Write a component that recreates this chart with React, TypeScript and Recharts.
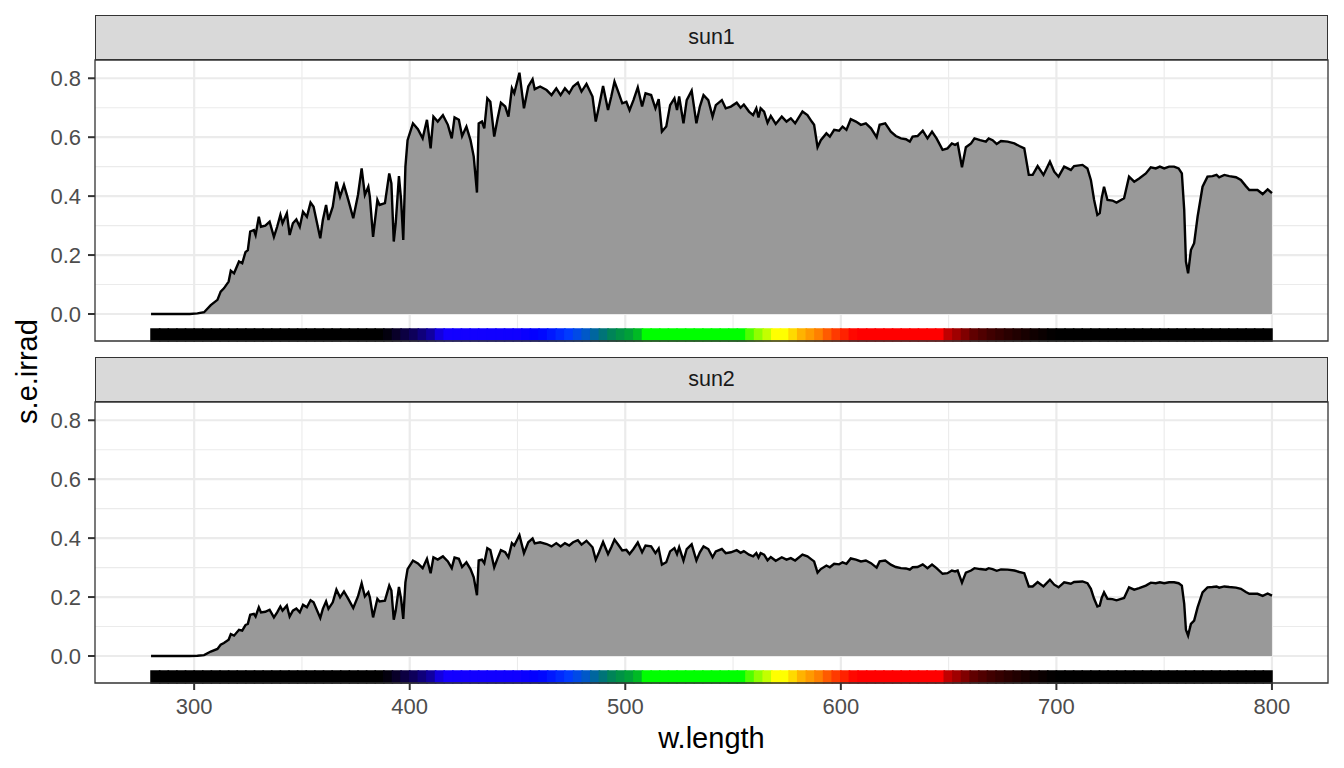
import React from 'react';
import { ComposedChart, Area, XAxis, YAxis, CartesianGrid, ReferenceArea } from 'recharts';

const FONT = '"Liberation Sans", Arial, Helvetica, sans-serif';

// wavelengths (nm)
const WAVELENGTHS = [
  280, 290, 298, 301.5, 304.6, 307.7, 310.8, 312.3, 313.8, 316,
  317, 318.5, 320.8, 322.3, 323.8, 324.9, 326, 327.7, 328.5, 330,
  331, 333, 335, 337, 338.5, 340, 341, 343, 344.3, 345.8,
  347.4, 349, 350.5, 352.3, 354, 355.4, 358.5, 359.7, 361.2, 362.3,
  364.3, 366, 367.7, 369.5, 371.5, 373.8, 376, 377.7, 379.2, 380.8,
  381.5, 383, 385, 386, 388.5, 390.5, 391.5, 392.6, 393.5, 395,
  396, 397, 398, 399, 401.5, 403.8, 406, 408, 409.7, 411,
  413, 415.4, 417.7, 419.5, 420.8, 422.8, 424.3, 426.3, 428.2, 429.7,
  431.2, 432, 433.5, 434.6, 436, 437.4, 439.2, 440.8, 442.3, 444.3,
  445.8, 447.4, 448.5, 450.9, 453, 455, 457, 458, 460.5, 463.5,
  465.8, 468, 470, 472, 474, 475.8, 478, 479.7, 482, 484.8,
  486.3, 487.8, 489.7, 492, 493.5, 495, 497, 498.6, 500.5, 502,
  503.8, 505.8, 507.8, 509.4, 512, 514, 515.5, 517, 519, 520.8,
  522.8, 524, 525, 527, 528.5, 530.8, 533, 534.6, 536.3, 538.5,
  540.5, 542, 544.8, 546.6, 549, 551.7, 553.5, 555, 557.4, 559.3,
  560.8, 561.8, 562.8, 564.4, 566, 567.5, 569.8, 572.6, 574.8, 576.8,
  578.8, 582.2, 584.5, 586.5, 587.6, 589.2, 590.7, 593.3, 594.9, 596.9,
  599.2, 600.8, 602.6, 604.6, 607, 609.3, 611.6, 614, 616.6, 618,
  620.6, 623.2, 625.5, 627.9, 630.2, 632, 633.3, 635.6, 638, 640.2,
  642.3, 644.4, 647.2, 649.5, 651.5, 653, 654.2, 656.2, 658, 660.4,
  662, 664.6, 667.3, 668.6, 670.4, 672.3, 674.3, 677.4, 680.5, 682.8,
  685.1, 687.2, 689, 691.3, 694, 697, 699, 701, 703.6, 706.7,
  708.2, 712.1, 714.4, 716, 717.5, 719, 720.1, 721, 722.1, 723.7,
  726, 727.9, 731.4, 733.7, 736.1, 738.4, 741.5, 743.8, 746.1, 748,
  750, 752.3, 754.6, 756.7, 758.2, 759.3, 760.1, 761.1, 762.4, 763.9,
  765.5, 767.8, 770.1, 772.4, 774.3, 775.5, 777.9, 780.2, 783.3, 785.6,
  787.9, 789.5, 793.3, 795.7, 798, 800,
];

const SUN1 = [
  0, 0, 0, 0.002, 0.006, 0.03, 0.048, 0.076, 0.087, 0.11,
  0.147, 0.138, 0.178, 0.172, 0.21, 0.217, 0.28, 0.285, 0.268, 0.33,
  0.296, 0.3, 0.313, 0.262, 0.296, 0.336, 0.308, 0.342, 0.268, 0.308,
  0.321, 0.296, 0.347, 0.33, 0.378, 0.364, 0.257, 0.319, 0.37, 0.319,
  0.364, 0.449, 0.398, 0.438, 0.387, 0.325, 0.404, 0.494, 0.404, 0.432,
  0.398, 0.262, 0.387, 0.37, 0.376, 0.477, 0.443, 0.246, 0.308, 0.468,
  0.387, 0.251, 0.5, 0.59, 0.647, 0.627, 0.596, 0.659, 0.562, 0.67,
  0.653, 0.675, 0.642, 0.596, 0.667, 0.659, 0.604, 0.636, 0.59, 0.534,
  0.412, 0.647, 0.653, 0.63, 0.732, 0.72, 0.602, 0.664, 0.717, 0.704,
  0.67, 0.766, 0.749, 0.819, 0.698, 0.772, 0.797, 0.763, 0.772, 0.76,
  0.743, 0.766, 0.743, 0.766, 0.749, 0.772, 0.785, 0.755, 0.781, 0.738,
  0.653, 0.704, 0.774, 0.692, 0.738, 0.789, 0.749, 0.715, 0.72, 0.692,
  0.726, 0.769, 0.704, 0.749, 0.743, 0.698, 0.729, 0.619, 0.636, 0.709,
  0.732, 0.692, 0.738, 0.647, 0.726, 0.758, 0.647, 0.704, 0.743, 0.726,
  0.67, 0.709, 0.726, 0.698, 0.704, 0.717, 0.7, 0.711, 0.687, 0.675,
  0.698, 0.667, 0.698, 0.687, 0.649, 0.672, 0.645, 0.67, 0.653, 0.664,
  0.647, 0.687, 0.675, 0.653, 0.642, 0.566, 0.59, 0.613, 0.602, 0.625,
  0.622, 0.636, 0.625, 0.661, 0.653, 0.642, 0.647, 0.63, 0.6, 0.642,
  0.647, 0.619, 0.604, 0.596, 0.593, 0.585, 0.602, 0.604, 0.622, 0.596,
  0.619, 0.596, 0.557, 0.562, 0.579, 0.574, 0.579, 0.498, 0.566, 0.579,
  0.596, 0.59, 0.585, 0.596, 0.59, 0.577, 0.587, 0.585, 0.579, 0.57,
  0.562, 0.472, 0.472, 0.502, 0.472, 0.517, 0.483, 0.466, 0.5, 0.489,
  0.502, 0.506, 0.494, 0.455, 0.387, 0.336, 0.342, 0.393, 0.432, 0.387,
  0.385, 0.378, 0.393, 0.466, 0.449, 0.46, 0.477, 0.498, 0.494, 0.5,
  0.494, 0.5, 0.5, 0.494, 0.477, 0.353, 0.178, 0.138, 0.217, 0.24,
  0.33, 0.432, 0.466, 0.468, 0.472, 0.464, 0.472, 0.468, 0.464, 0.455,
  0.434, 0.421, 0.421, 0.407, 0.423, 0.41,
];

const SUN2 = [
  0, 0, 0, 0.001, 0.003, 0.015, 0.024, 0.038, 0.044, 0.055,
  0.074, 0.069, 0.089, 0.086, 0.105, 0.109, 0.14, 0.143, 0.134, 0.165,
  0.148, 0.15, 0.157, 0.131, 0.148, 0.168, 0.154, 0.171, 0.134, 0.154,
  0.161, 0.148, 0.174, 0.165, 0.189, 0.182, 0.129, 0.16, 0.185, 0.16,
  0.182, 0.225, 0.199, 0.219, 0.194, 0.163, 0.202, 0.247, 0.202, 0.216,
  0.199, 0.131, 0.194, 0.185, 0.188, 0.239, 0.222, 0.123, 0.154, 0.234,
  0.194, 0.126, 0.25, 0.295, 0.324, 0.314, 0.298, 0.33, 0.281, 0.335,
  0.327, 0.338, 0.321, 0.298, 0.334, 0.33, 0.302, 0.318, 0.295, 0.267,
  0.206, 0.324, 0.327, 0.315, 0.366, 0.36, 0.301, 0.332, 0.359, 0.352,
  0.335, 0.383, 0.375, 0.41, 0.349, 0.386, 0.399, 0.382, 0.386, 0.38,
  0.372, 0.383, 0.372, 0.383, 0.375, 0.386, 0.393, 0.378, 0.391, 0.369,
  0.327, 0.352, 0.387, 0.346, 0.369, 0.395, 0.375, 0.358, 0.36, 0.346,
  0.363, 0.385, 0.352, 0.375, 0.372, 0.349, 0.365, 0.31, 0.318, 0.355,
  0.366, 0.346, 0.369, 0.324, 0.363, 0.379, 0.324, 0.352, 0.372, 0.363,
  0.335, 0.355, 0.363, 0.349, 0.352, 0.359, 0.35, 0.356, 0.344, 0.338,
  0.349, 0.334, 0.349, 0.344, 0.325, 0.336, 0.323, 0.335, 0.327, 0.332,
  0.324, 0.344, 0.338, 0.327, 0.321, 0.283, 0.295, 0.307, 0.301, 0.313,
  0.311, 0.318, 0.313, 0.331, 0.327, 0.321, 0.324, 0.315, 0.3, 0.321,
  0.324, 0.31, 0.302, 0.298, 0.297, 0.293, 0.301, 0.302, 0.311, 0.298,
  0.31, 0.298, 0.279, 0.281, 0.29, 0.287, 0.29, 0.249, 0.283, 0.29,
  0.298, 0.295, 0.293, 0.298, 0.295, 0.289, 0.294, 0.293, 0.29, 0.285,
  0.281, 0.236, 0.236, 0.251, 0.236, 0.259, 0.242, 0.233, 0.25, 0.245,
  0.251, 0.253, 0.247, 0.228, 0.194, 0.168, 0.171, 0.197, 0.216, 0.194,
  0.193, 0.189, 0.197, 0.233, 0.225, 0.23, 0.239, 0.249, 0.247, 0.25,
  0.247, 0.25, 0.25, 0.247, 0.239, 0.177, 0.089, 0.069, 0.109, 0.12,
  0.165, 0.216, 0.233, 0.234, 0.236, 0.232, 0.236, 0.234, 0.232, 0.228,
  0.217, 0.211, 0.211, 0.204, 0.212, 0.205,
];

const PANELS = ['sun1', 'sun2'];

const X_TICKS = [300, 400, 500, 600, 700, 800];
const X_MINOR = [350, 450, 550, 650, 750];
const Y_TICKS = [0, 0.2, 0.4, 0.6, 0.8];
const Y_MINOR = [0.1, 0.3, 0.5, 0.7];

// axis limits (ggplot default expansion)
const X_MIN = 254;
const X_MAX = 826;
const Y_MIN = -0.0917;
const Y_MAX = 0.862;
const BAR_TOP = -0.051;

// wavelength -> colour stops for the colour bar
const COLOUR_STOPS: [number, string][] = [
  [280, '#000000'], [388, '#000000'], [395, '#0a0030'], [403, '#0e0060'],
  [410, '#1000a0'], [416, '#1400ff'], [450, '#1000ff'], [460, '#0000ff'],
  [468, '#0020ff'], [475, '#0040ff'], [482, '#0058c8'], [489, '#007080'],
  [495, '#008850'], [502, '#00a038'], [507, '#00c020'], [510, '#00ff00'],
  [554, '#00ff00'], [557, '#40ff00'], [562, '#90ff00'], [567, '#d0ff00'],
  [570, '#ffff00'], [575, '#ffff00'], [580, '#ffc000'], [590, '#ff8000'],
  [597, '#ff4000'], [605, '#ff1000'], [607, '#ff0000'], [647, '#ff0000'],
  [650, '#c00000'], [656, '#900000'], [662, '#600000'], [670, '#400000'],
  [680, '#250000'], [690, '#100000'], [700, '#000000'], [800, '#000000'],
];

function hexRgb(h: string) {
  return [1, 3, 5].map((i) => parseInt(h.slice(i, i + 2), 16));
}

function wlColour(w: number) {
  for (let i = 0; i < COLOUR_STOPS.length - 1; i++) {
    const [w0, c0] = COLOUR_STOPS[i];
    const [w1, c1] = COLOUR_STOPS[i + 1];
    if (w >= w0 && w <= w1) {
      const t = (w - w0) / (w1 - w0);
      const a = hexRgb(c0);
      const b = hexRgb(c1);
      const rgb = a.map((v, k) => Math.round(v + (b[k] - v) * t));
      return `rgb(${rgb.join(',')})`;
    }
  }
  return '#000000';
}

const BAND_STEP = 4;
const bands: { x1: number; x2: number; fill: string }[] = [];
for (let w = 280; w < 800; w += BAND_STEP) {
  bands.push({ x1: w, x2: Math.min(w + BAND_STEP, 800), fill: wlColour(w + BAND_STEP / 2) });
}

const tickStyle = { fill: '#4D4D4D', fontSize: 22, fontFamily: FONT };

function Panel({ values, top, height, marginTop, showX }: any) {
  const data = WAVELENGTHS.map((w, i) => ({ w, v: values[i] }));
  return (
    <div style={{ position: 'absolute', left: 0, top, width: 1344, height }}>
      <ComposedChart
        width={1344}
        height={height}
        data={data}
        margin={{ top: marginTop, right: 16, bottom: showX ? 0 : 9, left: 0 }}
      >
        <CartesianGrid horizontalValues={Y_MINOR} verticalValues={X_MINOR} stroke="#EBEBEB" strokeWidth={1.1} />
        <CartesianGrid horizontalValues={Y_TICKS} verticalValues={X_TICKS} stroke="#EBEBEB" strokeWidth={2.2} />
        <XAxis
          dataKey="w"
          type="number"
          domain={[X_MIN, X_MAX]}
          ticks={X_TICKS}
          allowDataOverflow
          hide={!showX}
          height={85}
          axisLine={false}
          tickLine={{ stroke: '#333333', strokeWidth: 2 }}
          tickSize={7}
          tickMargin={8}
          tick={tickStyle}
        />
        <YAxis
          type="number"
          domain={[Y_MIN, Y_MAX]}
          ticks={Y_TICKS}
          allowDataOverflow
          width={95}
          axisLine={false}
          tickLine={{ stroke: '#333333', strokeWidth: 2 }}
          tickSize={7}
          tickMargin={7}
          tick={tickStyle}
          tickFormatter={(v: number) => v.toFixed(1)}
        />
        {bands.map((b) => (
          <ReferenceArea
            key={b.x1}
            x1={b.x1}
            x2={b.x2}
            y1={Y_MIN}
            y2={BAR_TOP}
            fill={b.fill}
            fillOpacity={1}
            stroke={b.fill}
            strokeWidth={1.6}
            ifOverflow="visible"
          />
        ))}
        <Area
          dataKey="v"
          type="linear"
          stroke="#000000"
          strokeWidth={2.4}
          fill="#999999"
          fillOpacity={1}
          baseValue={0}
          dot={false}
          activeDot={false}
          isAnimationActive={false}
        />
        <ReferenceArea
          x1={X_MIN}
          x2={X_MAX}
          y1={Y_MIN}
          y2={Y_MAX}
          fill="none"
          stroke="#333333"
          strokeWidth={1.3}
          ifOverflow="visible"
        />
      </ComposedChart>
    </div>
  );
}

function Strip({ label, top }: { label: string; top: number }) {
  return (
    <div
      style={{
        position: 'absolute',
        left: 95,
        top,
        width: 1233,
        height: 45,
        boxSizing: 'border-box',
        background: '#D9D9D9',
        border: '1.3px solid #333333',
        color: '#1A1A1A',
        fontFamily: FONT,
        fontSize: 21.5,
        lineHeight: '43px',
        textAlign: 'center',
      }}
    >
      {label}
    </div>
  );
}

export default function App() {
  return (
    <div style={{ position: 'absolute', left: 0, top: 0, width: 1344, height: 768, background: '#ffffff', overflow: 'hidden' }}>
      <Panel values={SUN1} top={0} height={350} marginTop={60} showX={false} />
      <Panel values={SUN2} top={350} height={418} marginTop={52} showX />
      <Strip label={PANELS[0]} top={15} />
      <Strip label={PANELS[1]} top={357} />
      <svg width={1344} height={768} style={{ position: 'absolute', left: 0, top: 0, pointerEvents: 'none' }}>
        <text x={711.5} y={748} textAnchor="middle" fontFamily={FONT} fontSize={29} fill="#000000">
          w.length
        </text>
        <text transform="translate(37,371.5) rotate(-90)" textAnchor="middle" fontFamily={FONT} fontSize={29} fill="#000000">
          s.e.irrad
        </text>
      </svg>
    </div>
  );
}
